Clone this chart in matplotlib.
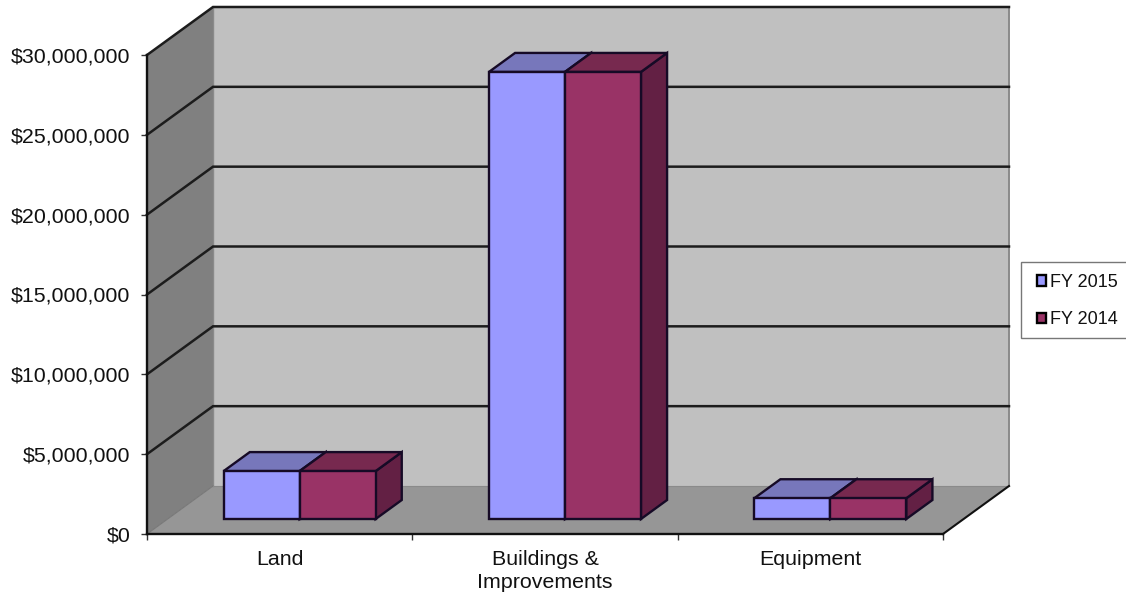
import matplotlib
matplotlib.use("Agg")
import matplotlib.pyplot as plt
from matplotlib.patches import Polygon, Patch, Rectangle

plt.rcParams['font.family'] = ['Liberation Sans', 'DejaVu Sans']

categories = ['Land', 'Buildings &\nImprovements', 'Equipment']
fy2015 = [3000000, 28000000, 1300000]
fy2014 = [3000000, 28000000, 1300000]
series_names = ['FY 2015', 'FY 2014']
y_ticks = [0, 5000000, 10000000, 15000000, 20000000, 25000000, 30000000]
y_labels = ['$0', '$5,000,000', '$10,000,000', '$15,000,000', '$20,000,000', '$25,000,000', '$30,000,000']

W, H = 1126, 594
fig = plt.figure(figsize=(W / 100, H / 100), dpi=100, facecolor='white')
ax = fig.add_axes([147 / W, (H - 534) / H, 796 / W, 479 / H])
ax.set_xlim(0, 3)
ax.set_ylim(0, 30000000)
ax.patch.set_visible(False)

DX = 66 / 265.33
DY = 48 / 79.83 * 5000000


def P(x, y, d=0.0):
    return (x + d * DX, y + d * DY)


def poly(points, fc, ec='none', lw=0, z=1):
    ax.add_patch(Polygon(points, closed=True, facecolor=fc, edgecolor=ec, linewidth=lw,
                         zorder=z, clip_on=False, joinstyle='miter'))


ymax = y_ticks[-1]
# walls and floor
poly([P(0, 0, 1), P(3, 0, 1), P(3, ymax, 1), P(0, ymax, 1)], '#C0C0C0', z=1)
poly([P(0, 0, 0), P(0, 0, 1), P(0, ymax, 1), P(0, ymax, 0)], '#808080', z=1)
poly([P(0, 0, 0), P(3, 0, 0), P(3, 0, 1), P(0, 0, 1)], '#969696', z=1)

ax.plot(*zip(P(3, 0, 1), P(3, ymax, 1)), color='#8a8a8a', lw=1.4, zorder=1.5, clip_on=False)
ax.plot(*zip(P(0, 0, 1), P(0, ymax, 1)), color='#8a8a8a', lw=1.0, zorder=1.5, clip_on=False)
ax.plot(*zip(P(0, 0, 0), P(0, 0, 1)), color='#777777', lw=0.8, zorder=1.5, clip_on=False)
ax.plot(*zip(P(0, 0, 1), P(3, 0, 1)), color='#8a8a8a', lw=0.8, zorder=1.5, clip_on=False)

# gridlines on side wall and back wall
for t in y_ticks[1:]:
    pts = [P(0, t, 0), P(0, t, 1), P(3, t, 1)]
    ax.plot(*zip(*pts), color='#1c1c1c', lw=1.8, zorder=2, clip_on=False, solid_joinstyle='miter')

# floor right edge
ax.plot(*zip(P(3, 0, 0), P(3, 0, 1)), color='#111111', lw=1.5, zorder=2, clip_on=False)

# 3D bars
bar_w = 76 / 265.33
bar_off = 56 / 265.33
d0, d1 = 15 / 48, 34 / 48
styles = [('#9999FF', '#7777BB', '#5E5E96'), ('#993366', '#77294F', '#632044')]
edge = '#160a26'
for i in range(len(categories)):
    for s, vals in enumerate([fy2015, fy2014]):
        x0 = i + bar_off + s * bar_w
        x1 = x0 + bar_w
        v = vals[i]
        front, top, side = styles[s]
        poly([P(x1, 0, d0), P(x1, 0, d1), P(x1, v, d1), P(x1, v, d0)], side, edge, 1.7, 3)
        poly([P(x0, v, d0), P(x1, v, d0), P(x1, v, d1), P(x0, v, d1)], top, edge, 1.7, 3)
        poly([P(x0, 0, d0), P(x1, 0, d0), P(x1, v, d0), P(x0, v, d0)], front, edge, 1.7, 4)

# axes, ticks, labels
for name in ('top', 'right'):
    ax.spines[name].set_visible(False)
for name in ('left', 'bottom'):
    ax.spines[name].set_linewidth(1.7)
    ax.spines[name].set_color('#111111')
    ax.spines[name].set_zorder(5)

ax.set_yticks(y_ticks)
ax.set_yticklabels(y_labels, fontsize=15.4, color='#111111')
ax.tick_params(axis='y', length=4, width=1, pad=8, color='#333333')
ax.set_xticks([0, 1, 2, 3])
ax.set_xticklabels([])
ax.tick_params(axis='x', which='major', length=4, width=1, color='#333333')
ax.set_xticks([0.5, 1.5, 2.5], minor=True)
ax.set_xticklabels(categories, minor=True, fontsize=15.4, color='#111111', linespacing=1.3)
ax.tick_params(axis='x', which='minor', length=0, pad=11.5)

# legend: frame runs past the right edge of the picture
fig.add_artist(Rectangle((1021 / W, (H - 338) / H), 110 / W, 76 / H, transform=fig.transFigure,
                         facecolor='white', edgecolor='#777777', linewidth=1.0, zorder=6))
handles = [Patch(facecolor=styles[0][0], edgecolor='#000000', linewidth=1.7),
           Patch(facecolor=styles[1][0], edgecolor='#000000', linewidth=1.7)]
leg = fig.legend(handles, series_names, loc='upper left',
                 bbox_to_anchor=(1037 / W, (H - 274) / H), bbox_transform=fig.transFigure,
                 fontsize=13, frameon=False, borderaxespad=0, borderpad=0,
                 handlelength=0.5, handleheight=0.5,
                 handletextpad=0.2, labelspacing=1.13, labelcolor='#111111')
leg.set_zorder(7)

fig.savefig('out.png', dpi=100, facecolor='white')
